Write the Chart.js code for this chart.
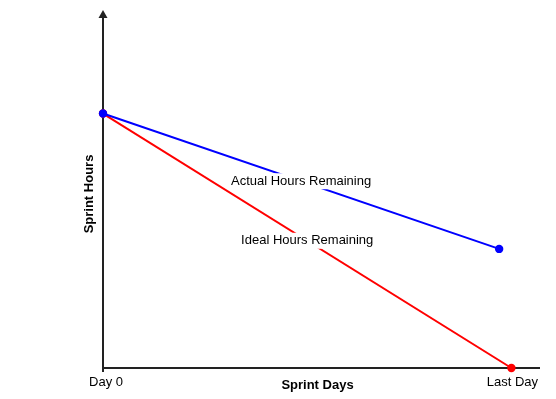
<!DOCTYPE html>
<html>
<head>
<meta charset="utf-8">
<script src="https://cdn.jsdelivr.net/npm/chart.js@4"></script>
<style>
  html, body { margin: 0; padding: 0; background: #fff; }
  #wrap { width: 556px; height: 399px; }
</style>
</head>
<body>
<div id="wrap"><canvas id="burndown"></canvas></div>
<script>
// Data (x: sprint day 0..10, y: hours, start = 100)
const dayTicks = [0, 10];
const dayLabels = ['Day 0', 'Last Day'];
const idealX = [0, 10];
const idealY = [100, 0];
const actualX = [0, 9.7];
const actualY = [100, 46.8];
const seriesNames = ['Actual Hours Remaining', 'Ideal Hours Remaining'];

const toPoints = (xs, ys) => xs.map((x, i) => ({ x: x, y: ys[i] }));

const FONT = '"Liberation Sans", Arial, sans-serif';

// draws the axes with the arrow, tick labels, titles and in-line series labels
const burndownDecor = {
  id: 'burndownDecor',
  beforeDatasetsDraw(chart) {
    const { ctx, chartArea: a, scales: { x, y } } = chart;
    ctx.save();
    ctx.strokeStyle = '#222';
    ctx.lineWidth = 2;
    ctx.beginPath();
    ctx.moveTo(a.left, a.top + 6);
    ctx.lineTo(a.left, a.bottom);
    ctx.lineTo(x.getPixelForValue(x.max), a.bottom);
    // tick at Day 0
    ctx.moveTo(a.left, a.bottom);
    ctx.lineTo(a.left, a.bottom + 4);
    ctx.stroke();
    // arrow head
    ctx.fillStyle = '#222';
    ctx.beginPath();
    ctx.moveTo(a.left, a.top);
    ctx.lineTo(a.left - 4.5, a.top + 8);
    ctx.lineTo(a.left + 4.5, a.top + 8);
    ctx.closePath();
    ctx.fill();

    ctx.fillStyle = '#000';
    ctx.font = '13px ' + FONT;
    ctx.textAlign = 'center';
    ctx.textBaseline = 'middle';
    dayTicks.forEach((d, i) => {
      ctx.fillText(dayLabels[i], x.getPixelForValue(d) + (i ? 1 : 3), a.bottom + 14);
    });
    ctx.font = 'bold 13px ' + FONT;
    ctx.fillText('Sprint Days', (a.left + x.getPixelForValue(x.max)) / 2 - 4, a.bottom + 17);
    ctx.translate(a.left - 14, 194);
    ctx.rotate(-Math.PI / 2);
    ctx.fillText('Sprint Hours', 0, 0);
    ctx.restore();
  },
  afterDatasetsDraw(chart) {
    const { ctx, scales: { x, y } } = chart;
    ctx.save();
    ctx.font = '13px ' + FONT;
    ctx.textAlign = 'center';
    ctx.textBaseline = 'middle';
    chart.data.datasets.forEach(ds => {
      const p0 = ds.data[0], p1 = ds.data[ds.data.length - 1];
      const cx = x.getPixelForValue((p0.x + p1.x) / 2);
      const cy = y.getPixelForValue((p0.y + p1.y) / 2);
      const w = ctx.measureText(ds.label).width;
      ctx.fillStyle = '#fff';
      ctx.fillRect(cx - w / 2 - 2, cy - 8, w + 4, 16);
      ctx.fillStyle = '#000';
      ctx.fillText(ds.label, cx, cy);
    });
    ctx.restore();
  }
};

new Chart(document.getElementById('burndown'), {
  type: 'scatter',
  data: {
    datasets: [
      {
        label: seriesNames[0],
        data: toPoints(actualX, actualY),
        showLine: true,
        borderColor: '#0000ff',
        backgroundColor: '#0000ff',
        borderWidth: 2,
        pointRadius: 3.2,
        clip: false
      },
      {
        label: seriesNames[1],
        data: toPoints(idealX, idealY),
        showLine: true,
        borderColor: '#ff0000',
        backgroundColor: '#ff0000',
        borderWidth: 2,
        pointRadius: 3.2,
        clip: false
      }
    ]
  },
  options: {
    responsive: true,
    maintainAspectRatio: false,
    animation: false,
    layout: { padding: { left: 103, right: 16, top: 10, bottom: 31 } },
    plugins: { legend: { display: false }, tooltip: { enabled: false } },
    scales: {
      x: { type: 'linear', min: 0, max: 10.7, display: false },
      y: { type: 'linear', min: 0, max: 140.7, display: false }
    }
  },
  plugins: [burndownDecor]
});
</script>
</body>
</html>
